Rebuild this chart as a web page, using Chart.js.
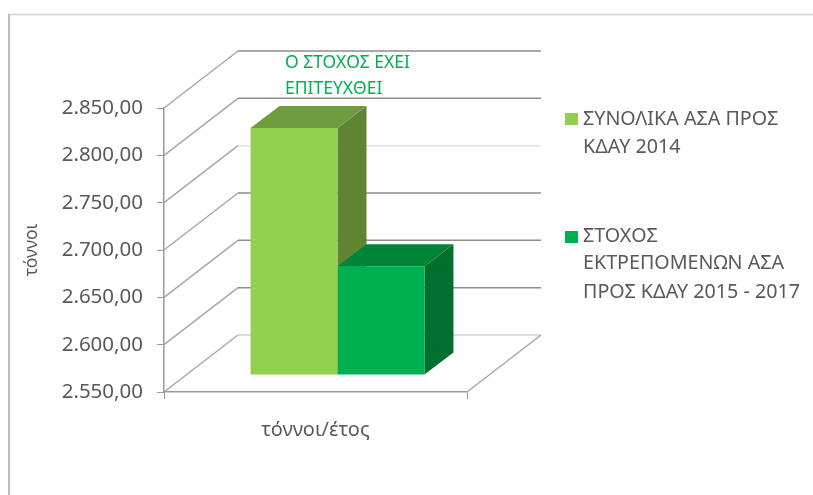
<!DOCTYPE html>
<html><head><meta charset="utf-8">
<style>html,body{margin:0;padding:0;background:#fff}canvas{display:block;filter:blur(0.65px)}</style>
<script src="https://cdn.jsdelivr.net/npm/chart.js@4"></script>
</head><body><div style="width:813px;height:495px"><canvas id="c" width="813" height="495"></canvas></div>
<script>
const categories = ['τόννοι/έτος'];
const seriesNames = [['ΣΥΝΟΛΙΚΑ ΑΣΑ ΠΡΟΣ','ΚΔΑΥ 2014'],['ΣΤΟΧΟΣ','ΕΚΤΡΕΠΟΜΕΝΩΝ ΑΣΑ','ΠΡΟΣ ΚΔΑΥ 2015 - 2017']];
const totalWaste = [2811];
const targetWaste = [2665];
const yTickLabels = ['2.550,00','2.600,00','2.650,00','2.700,00','2.750,00','2.800,00','2.850,00'];
const annotation = ['Ο ΣΤΟΧΟΣ ΕΧΕΙ','ΕΠΙΤΕΥΧΘΕΙ'];
const yMin = 2550, yMax = 2850;
const FONT = '"Noto Sans", sans-serif';
const TEXT = '#595959';
const faces = [
  {front:'#92d050', top:'#6f9c3d', side:'#5f8533'},
  {front:'#00b050', top:'#008437', side:'#00702e'}
];
const wallColors = ['#d2d2d2','#8c8c8c','#8c8c8c','#8c8c8c','#e2e2e2','#8c8c8c','#8c8c8c'];
const depth = {x:74, y:-57};
const barShift = {x:22, y:-17};
const barDepth = {x:29, y:-22};

function poly(ctx, pts, fill){
  ctx.beginPath(); pts.forEach((p,i)=>i?ctx.lineTo(p[0],p[1]):ctx.moveTo(p[0],p[1])); ctx.closePath();
  ctx.fillStyle=fill; ctx.fill();
}
const scene = {
  id:'scene',
  beforeDatasetsDraw(chart){
    const {ctx, scales:{x,y}} = chart;
    ctx.save();
    // frame
    ctx.lineWidth=2; ctx.strokeStyle='#dcdcdc';
    ctx.beginPath(); ctx.moveTo(9,14.5); ctx.lineTo(813,14.5); ctx.stroke();
    ctx.lineWidth=1.5; ctx.strokeStyle='#a8a8a8';
    ctx.beginPath(); ctx.moveTo(9,14); ctx.lineTo(9,495); ctx.stroke();
    // walls
    y.ticks.forEach((t,i)=>{
      const py=y.getPixelForValue(t.value);
      ctx.lineWidth=1.4; ctx.strokeStyle='#a6a6a6';
      ctx.beginPath(); ctx.moveTo(x.left,py); ctx.lineTo(x.left+depth.x,py+depth.y); ctx.stroke();
      ctx.lineWidth=1.5; ctx.strokeStyle=wallColors[i];
      ctx.beginPath(); ctx.moveTo(x.left+depth.x,py+depth.y); ctx.lineTo(x.right+depth.x,py+depth.y); ctx.stroke();
    });
    const b=y.bottom;
    ctx.lineWidth=1.4; ctx.strokeStyle='#a6a6a6';
    ctx.beginPath(); ctx.moveTo(x.right,b); ctx.lineTo(x.right+depth.x,b+depth.y); ctx.stroke();
    // bar side and top faces, taken from the library's own bar elements
    chart.data.datasets.forEach((d,i)=>{
      const el=chart.getDatasetMeta(i).data[0];
      const l=el.x-el.width/2+barShift.x, r=el.x+el.width/2+barShift.x;
      const t=el.y+barShift.y, bt=el.base+barShift.y;
      poly(ctx,[[r,t],[r+barDepth.x,t+barDepth.y],[r+barDepth.x,bt+barDepth.y],[r,bt]],faces[i].side);
      poly(ctx,[[l,t],[l+barDepth.x,t+barDepth.y],[r+barDepth.x,t+barDepth.y],[r,t]],faces[i].top);
    });
    ctx.restore();
    ctx.save();
    ctx.translate(barShift.x,barShift.y);
  },
  afterDatasetsDraw(chart){
    const {ctx}=chart;
    ctx.restore();
    ctx.save();
    ctx.textBaseline='middle'; ctx.textAlign='left';
    ctx.font='17.5px '+FONT; ctx.fillStyle='#00b050';
    ctx.fillText(annotation[0],285,63);
    ctx.fillText(annotation[1],285,89);
    const legendRows=[{sw:113,lines:[119,147]},{sw:231,lines:[236,263,292]}];
    ctx.font='19.7px '+FONT;
    seriesNames.forEach((names,i)=>{
      ctx.fillStyle=faces[i].front; ctx.fillRect(565,legendRows[i].sw,13,12);
      ctx.fillStyle=TEXT;
      names.forEach((s,j)=>ctx.fillText(s,583,legendRows[i].lines[j]));
    });
    ctx.restore();
  }
};
new Chart(document.getElementById('c'),{
  type:'bar',
  data:{labels:categories,datasets:[
    {label:seriesNames[0].join(' '),data:totalWaste,base:yMin,backgroundColor:faces[0].front},
    {label:seriesNames[1].join(' '),data:targetWaste,base:yMin,backgroundColor:faces[1].front}
  ]},
  options:{
    responsive:false,animation:false,devicePixelRatio:1,
    layout:{padding:{left:0,top:108,right:346,bottom:0}},
    datasets:{bar:{categoryPercentage:0.574,barPercentage:1,borderWidth:0}},
    plugins:{legend:{display:false},tooltip:{enabled:false},title:{display:false}},
    scales:{
      x:{
        afterFit(s){s.height=103;},
        grid:{drawOnChartArea:false,offset:true,color:'#999',tickLength:7},
        border:{color:'#999',width:1.5},
        ticks:{color:TEXT,font:{family:FONT,size:20},padding:19,maxRotation:0}
      },
      y:{
        min:yMin,max:yMax,
        afterFit(s){s.width=164;},
        grid:{drawOnChartArea:false,color:'#999',tickLength:7},
        border:{color:'#999',width:1.5},
        ticks:{stepSize:50,color:TEXT,font:{family:FONT,size:20.5},padding:14,callback:(v,i)=>yTickLabels[i]},
        title:{display:true,text:'τόννοι',color:TEXT,font:{family:FONT,size:17.5},padding:{top:22,bottom:0}}
      }
    }
  },
  plugins:[scene]
});
</script></body></html>
